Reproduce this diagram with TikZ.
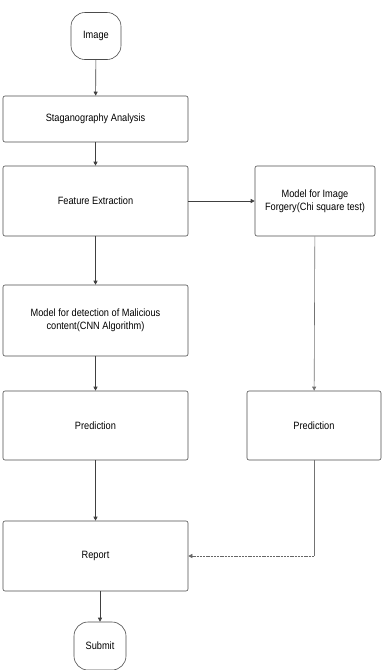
\documentclass[tikz,border=0pt]{standalone}
\usepackage{fontspec}
\setmainfont{Liberation Sans}[FakeStretch=0.87]
\usetikzlibrary{arrows.meta}
\begin{document}
\begin{tikzpicture}[x=1pt,y=-1pt,
  every node/.style={font=\fontsize{10.6}{13}\selectfont, text=black},
  box/.style={draw=black!70, line width=0.6pt, rounded corners=2pt, align=center, inner sep=2pt},
  term/.style={draw=black!70, line width=0.6pt, rounded corners=14pt, align=center},
  conn/.style={draw=black!75, line width=0.6pt, -{Triangle[length=4pt,width=4pt]}},
  line/.style={draw=black!55, line width=0.6pt},
  dconn/.style={conn, draw=black!60, dash pattern=on 2pt off 0.8pt}
]
\path[use as bounding box] (0,0) rectangle (382,670);
\node[term, minimum width=50pt, minimum height=47pt] (img) at (96,36) {Image};
\node[box, minimum width=185pt, minimum height=46pt] (stag) at (95.5,119) {Staganography Analysis};
\node[box, minimum width=185pt, minimum height=70pt] (feat) at (95.5,201) {Feature Extraction};
\node[box, minimum width=120pt, minimum height=70pt] (forg) at (315,201) {Model for Image\\Forgery(Chi square test)};
\node[box, minimum width=185pt, minimum height=71pt] (mal) at (95.5,320.5) {Model for detection of Malicious\\content(CNN Algorithm)};
\node[box, minimum width=185pt, minimum height=69pt] (pred1) at (95.5,425.5) {Prediction};
\node[box, minimum width=134pt, minimum height=69pt] (pred2) at (314,425.5) {Prediction};
\node[box, minimum width=185pt, minimum height=70pt] (report) at (95.5,556) {Report};
\node[term, minimum width=52pt, minimum height=48pt] (submit) at (100,646) {Submit};
\coordinate (bend) at (pred2.south |- report.east);

\draw[conn] (img) -- (stag);
\draw[conn] (stag) -- (feat);
\draw[conn] (feat) -- (forg);
\draw[conn] (feat) -- (mal);
\draw[conn] (mal) -- (pred1);
\draw[conn, draw=black!55] (forg) -- (pred2);
\draw[conn] (pred1) -- (report);
\draw[line] (pred2.south) -- (bend);
\draw[dconn] (bend) -- (report.east);
\draw[conn] (report.south -| submit.north) -- (submit);
\end{tikzpicture}
\end{document}
